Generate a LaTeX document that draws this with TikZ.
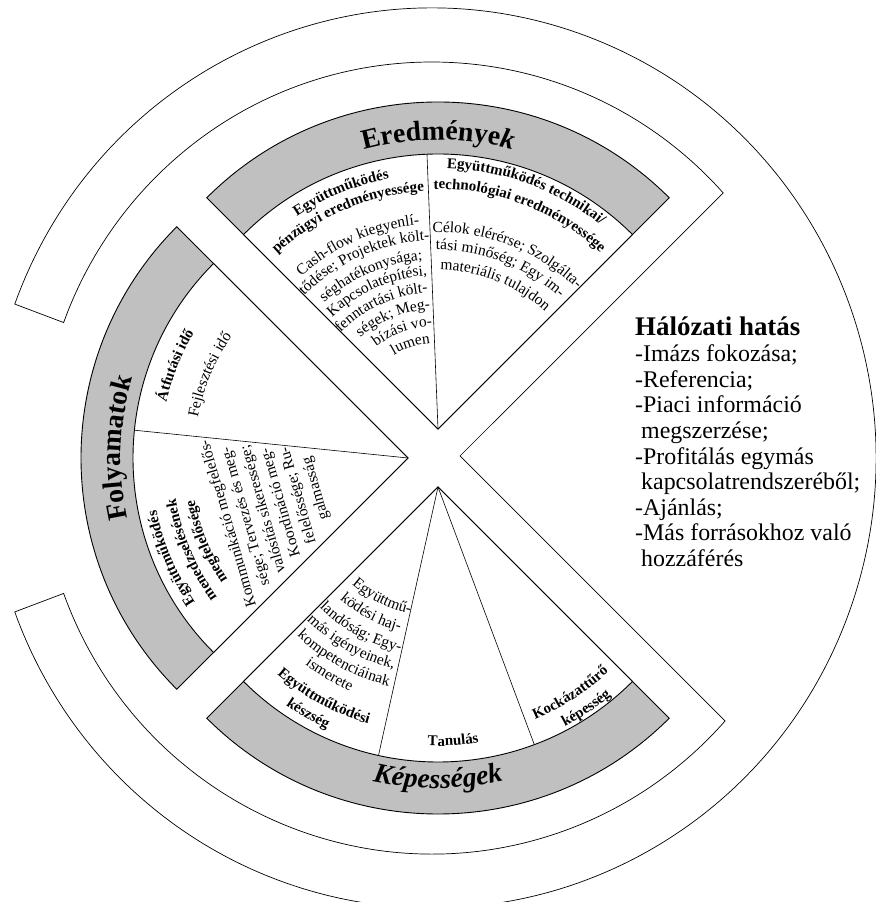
\documentclass[tikz,border=0pt]{standalone}
\usepackage{fontspec}
\setmainfont{Liberation Serif}
\usetikzlibrary{calc,decorations.text}
\definecolor{bandgray}{RGB}{192,192,192}
\newcommand\bodyf{\mdseries\upshape\fontsize{15.5}{18}\selectfont}
\newcommand\ttlf{\bfseries\upshape\fontsize{15}{18}\selectfont}
\newcommand\bandf{\bfseries\upshape\fontsize{28}{30}\selectfont}
\newcommand\bandfi{\bfseries\itshape\fontsize{28}{30}\selectfont}
% arc text, letters pointing away from the vertex (path clockwise)
\newcommand\cwtext[5]{\begingroup#1%
  \path[decorate,decoration={text along path,text align=center,text={#5}}]
    ($(#2)+(#4+70:#3)$) arc[start angle=#4+70,end angle=#4-70,radius=#3];\endgroup}
% arc text, letters pointing to the vertex (path counter-clockwise)
\newcommand\ccwtext[5]{\begingroup#1%
  \path[decorate,decoration={text along path,text align=center,text={#5}}]
    ($(#2)+(#4-70:#3)$) arc[start angle=#4-70,end angle=#4+70,radius=#3];\endgroup}
% straight text centred at screen point (#2,#3), running in direction #4
\newcommand\dirtext[5]{\begingroup#1%
  \path[decorate,decoration={text along path,text align=center,text={#5}}]
    ($(#2,902-#3)+(#4+180:200)$) -- ++(#4:400);\endgroup}
\begin{document}
\begin{tikzpicture}[x=1bp,y=1bp,
  ring/.style={draw=black,line width=0.7bp,fill=white},
  band/.style={draw=black,line width=0.9bp,fill=bandgray},
  field/.style={draw=black,line width=0.9bp,fill=white},
  divider/.style={draw=black,line width=0.6bp},
  listline/.style={anchor=base west,inner sep=0pt,font=\fontsize{24}{26}\selectfont}]
\useasboundingbox (0,0) rectangle (876,902);
\clip (0,0) rectangle (876,902);
\coordinate (E) at (432,444);
\coordinate (T) at (438,473);
\coordinate (L) at (408,444);
\coordinate (B) at (438,415);
\coordinate (R) at (460,446);
\coordinate (Wu) at ($(E)+(42.03:392 and 396)$);
\coordinate (Wd) at ($(E)+(318.38:392 and 396)$);
% outer network-effect shape
\draw[ring] ($(E)+(160:444 and 450)$) arc[start angle=160,end angle=-160,x radius=444,y radius=450]
  -- ($(E)+(200:392 and 396)$) arc[start angle=200,end angle=318.38,x radius=392,y radius=396]
  -- (R) -- (Wu) arc[start angle=42.03,end angle=160,x radius=392,y radius=396] -- cycle;
% top sector
\path[band] (T) -- ++(135:327) arc[start angle=135,end angle=45,radius=327] -- cycle;
\path[field] (T) -- ++(135:275) arc[start angle=135,end angle=45,radius=275] -- cycle;
\draw[divider] (T) -- ++(92.3:275);
% left sector
\path[band] (L) -- ++(225:327) arc[start angle=225,end angle=135,radius=327] -- cycle;
\path[field] (L) -- ++(225:275) arc[start angle=225,end angle=135,radius=275] -- cycle;
\draw[divider] (L) -- ++(174.2:275);
% bottom sector
\path[band] (B) -- ++(225:327) arc[start angle=225,end angle=315,radius=327] -- cycle;
\path[field] (B) -- ++(225:275) arc[start angle=225,end angle=315,radius=275] -- cycle;
\draw[divider] (B) -- ++(257.5:275);
\draw[divider] (B) -- ++(290.5:275);
% band titles
\cwtext{\bandf}{T}{289}{90}{Eredménye{\itshape k}}
\cwtext{\bandf}{L}{287}{178}{Folyamatok}
\ccwtext{\bandfi}{B}{301}{270}{Képességek}
% top-left
\cwtext{\ttlf}{T}{255}{112.3}{Együttműködés}
\cwtext{\ttlf}{T}{238}{113}{pénzügyi eredményessége}
\cwtext{\bodyf}{T}{205}{113.5}{Cash-flow kiegyenlí-}
\cwtext{\bodyf}{T}{189}{113.8}{tődése; Projektek költ-}
\cwtext{\bodyf}{T}{170}{113.6}{séghatékonysága;}
\cwtext{\bodyf}{T}{154}{113.7}{Kapcsolatépítési,}
\cwtext{\bodyf}{T}{137}{114.8}{fenntartási költ-}
\cwtext{\bodyf}{T}{120}{112}{ségek; Meg-}
\cwtext{\bodyf}{T}{103}{110}{bízási vo-}
\cwtext{\bodyf}{T}{86}{108}{lumen}
% top-right
\cwtext{\ttlf}{T}{261}{69.7}{Együttműködés technikai/}
\cwtext{\ttlf}{T}{240}{69.2}{technológiai eredményessége}
\cwtext{\bodyf}{T}{197}{68.4}{Célok elérérse; Szolgálta-}
\cwtext{\bodyf}{T}{179}{68.9}{tási minőség; Egy im-}
\cwtext{\bodyf}{T}{159}{68.4}{materiális tulajdon}
% left-upper
\cwtext{\ttlf}{L}{248}{158.3}{Átfutási idő}
\cwtext{\bodyf}{L}{214}{157.2}{Fejlesztési idő}
% left-lower
\cwtext{\ttlf}{L}{257}{202.9}{Együttműködés}
\cwtext{\ttlf}{L}{236}{203}{menedzselésének}
\cwtext{\ttlf}{L}{217.5}{202.5}{megfelelősége}
\dirtext{\bodyf}{232.2}{522.3}{106}{Kommunikáció megfelelős-}
\dirtext{\bodyf}{249.7}{515.3}{106}{sége; Tervezés és meg-}
\dirtext{\bodyf}{267.2}{508.3}{106}{valósítás sikeressége;}
\dirtext{\bodyf}{284.6}{501.3}{106}{Koordináció meg-}
\dirtext{\bodyf}{302.1}{494.3}{106}{felelőssége; Ru-}
\dirtext{\bodyf}{319.6}{487.3}{106}{galmasság}
% bottom-left
\ccwtext{\ttlf}{B}{247}{241.5}{Együttműködési}
\ccwtext{\ttlf}{B}{266}{240.2}{készség}
\ccwtext{\bodyf}{B}{130}{243.1}{Együttmű-}
\ccwtext{\bodyf}{B}{149}{242}{ködési haj-}
\ccwtext{\bodyf}{B}{169}{241.3}{landóság; Egy-}
\ccwtext{\bodyf}{B}{187}{240.9}{más igényeinek,}
\ccwtext{\bodyf}{B}{205}{241.3}{kompetenciáinak}
\ccwtext{\bodyf}{B}{222}{240}{ismerete}
% bottom-middle, bottom-right
\ccwtext{\ttlf}{B}{259}{273.4}{Tanulás}
\ccwtext{\ttlf}{B}{251.5}{302.7}{Kockázattűrő}
\ccwtext{\ttlf}{B}{271}{303.8}{képesség}
% network effect text
\node[anchor=base west,inner sep=0pt,font=\bfseries\fontsize{27}{30}\selectfont] (h0) at (635,566) {Hálózati hatás};
\node[listline] (h1) at (635,540.3) {-Imázs fokozása;};
\node[listline] (h2) at (635,514.7) {-Referencia;};
\node[listline] (h3) at (635,489.1) {-Piaci információ};
\node[listline] (h4) at (641,463.5) {megszerzése;};
\node[listline] (h5) at (635,437.9) {-Profitálás egymás};
\node[listline] (h6) at (641,412.3) {kapcsolatrendszeréből;};
\node[listline] (h7) at (635,386.7) {-Ajánlás;};
\node[listline] (h8) at (635,361.1) {-Más forrásokhoz való};
\node[listline] (h9) at (641,335.5) {hozzáférés};
\end{tikzpicture}
\end{document}
